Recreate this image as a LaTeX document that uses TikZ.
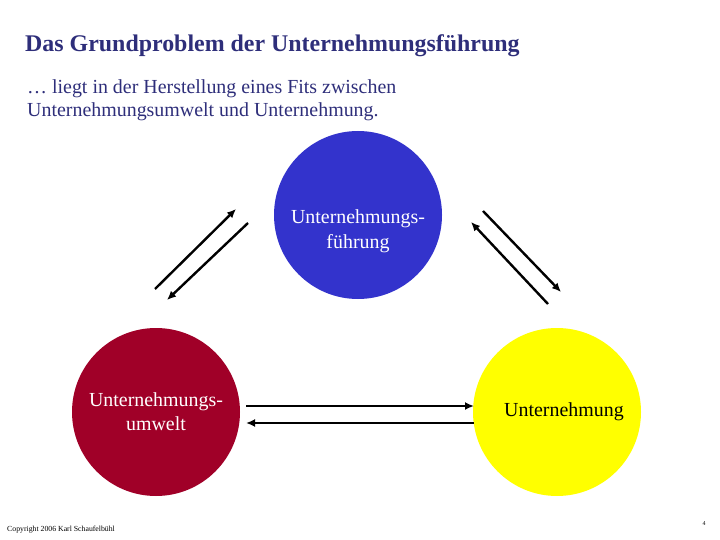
\documentclass[tikz,border=0pt]{standalone}
\usepackage{fontspec}
\setmainfont{Liberation Serif}
\usetikzlibrary{arrows.meta}
\definecolor{titleblue}{HTML}{2E2E7A}
\definecolor{circblue}{HTML}{3333CC}
\definecolor{circred}{HTML}{A00028}
\definecolor{circyellow}{HTML}{FFFF00}
\tikzset{
  circ/.style={circle, minimum size=168bp, inner sep=0pt, align=center, font=\fontsize{20}{24}\selectfont},
  arr/.style={line width=2.4bp, -{Latex[length=9bp,width=8bp]}},
}
\begin{document}
\begin{tikzpicture}[x=1bp,y=-1bp]
\useasboundingbox (0,0) rectangle (720,540);
\node[anchor=west, text=titleblue, font=\bfseries\fontsize{24}{28}\selectfont, inner sep=0pt] (title) at (25,46) {Das Grundproblem der Unternehmungsführung};
\node[anchor=north west, text=titleblue, align=left, font=\fontsize{20}{24}\selectfont, inner sep=0pt] (sub) at (27,79) {… liegt in der Herstellung eines Fits zwischen\\Unternehmungsumwelt und Unternehmung.};
\node[circ, fill=circblue] (fuehr) at (358,215) {};
\node[align=center, text=white, font=\fontsize{20}{25}\selectfont, inner sep=0pt] (fuehrtext) at (358,231) {Unternehmungs-\\führung};
\node[circ, fill=circred, text=white] (umwelt) at (156,412) {Unternehmungs-\\umwelt};
\node[circ, fill=circyellow] (unt) at (557,412) {};
\node[text=black, font=\fontsize{20}{24}\selectfont, inner sep=0pt] (unttext) at (564,412) {Unternehmung};
\coordinate (a1s) at (155,289); \coordinate (a1e) at (236,209);
\coordinate (a2s) at (248,223); \coordinate (a2e) at (167,300);
\coordinate (b1s) at (483,211); \coordinate (b1e) at (561,292);
\coordinate (b2s) at (548,304); \coordinate (b2e) at (471,222);
\coordinate (c1s) at (246,406); \coordinate (c1e) at (474,406);
\coordinate (c2s) at (474,423); \coordinate (c2e) at (246,423);
\draw[arr] (a1s) -- (a1e);
\draw[arr] (a2s) -- (a2e);
\draw[arr] (b1s) -- (b1e);
\draw[arr] (b2s) -- (b2e);
\draw[arr] (c1s) -- (c1e);
\draw[arr] (c2s) -- (c2e);
\node[anchor=west, font=\fontsize{7.8}{9}\selectfont, inner sep=0pt] (copy) at (7,530) {Copyright 2006 Karl Schaufelbühl};
\node[font=\fontsize{6}{7}\selectfont, inner sep=0pt] (page) at (704,524) {4};
\end{tikzpicture}
\end{document}
